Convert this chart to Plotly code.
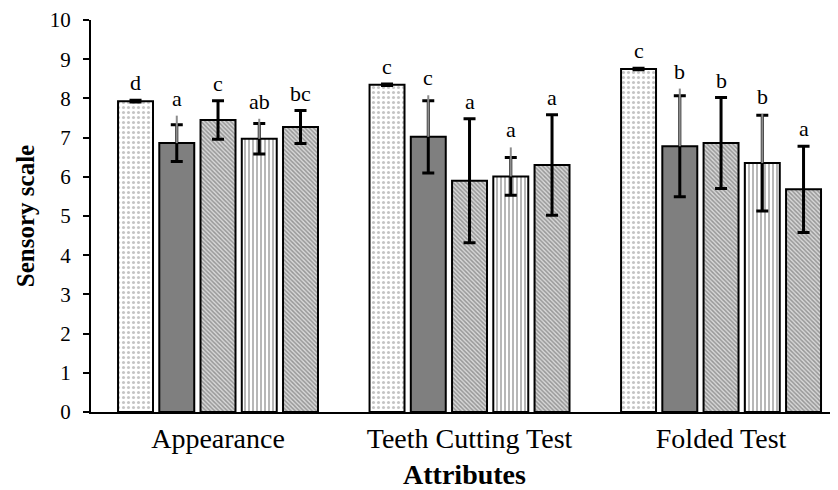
import plotly.graph_objects as go

categories = ["Appearance", "Teeth Cutting Test", "Folded Test"]

# five samples (series) per attribute
s1_vals = [7.93, 8.35, 8.75]
s2_vals = [6.86, 7.02, 6.78]
s3_vals = [7.45, 5.90, 6.86]
s4_vals = [6.97, 6.01, 6.35]
s5_vals = [7.27, 6.30, 5.68]

s1_err = [0.02, 0.02, 0.02]
s2_err = [0.47, 0.92, 1.29]
s3_err = [0.49, 1.58, 1.16]
s4_err = [0.39, 0.48, 1.22]
s5_err = [0.42, 1.28, 1.10]

# lighter upper whiskers seen on series 2 and 4
s2_grey_up = [0.70, 1.06, 1.47]
s4_grey_up = [0.51, 0.74, 1.25]

s1_letters = ["d", "c", "c"]
s2_letters = ["a", "c", "b"]
s3_letters = ["c", "a", "b"]
s4_letters = ["ab", "a", "b"]
s5_letters = ["bc", "a", "a"]

values = [s1_vals, s2_vals, s3_vals, s4_vals, s5_vals]
errors = [s1_err, s2_err, s3_err, s4_err, s5_err]
greys = [None, s2_grey_up, None, s4_grey_up, None]
letters = [s1_letters, s2_letters, s3_letters, s4_letters, s5_letters]

FONT = "Liberation Serif"

patterns = [
    dict(shape=".", fgcolor="#8a8a8a", bgcolor="white", size=5, solidity=0.3),
    None,
    dict(shape="\\", fgcolor="#555555", bgcolor="#d8d8d8", size=3, solidity=0.5),
    dict(shape="|", fgcolor="#707070", bgcolor="white", size=4, solidity=0.5),
    dict(shape="\\", fgcolor="#555555", bgcolor="#d8d8d8", size=3, solidity=0.5),
]
colors = ["white", "#7f7f7f", "white", "white", "white"]

x = list(range(len(categories)))
step = 0.164
width = 0.139

fig = go.Figure()
for i in range(5):
    center_off = (i - 2) * step
    marker = dict(color=colors[i], line=dict(color="black", width=2))
    if patterns[i] is not None:
        marker["pattern"] = patterns[i]
    fig.add_trace(go.Bar(
        x=x, y=values[i], width=width, offset=center_off - width / 2,
        marker=marker,
        error_y=dict(type="data", array=errors[i], color="black",
                     thickness=3, width=6),
        showlegend=False, hoverinfo="skip",
    ))
# grey upper whiskers overlaid
for i in range(5):
    if greys[i] is None:
        continue
    center_off = (i - 2) * step
    fig.add_trace(go.Bar(
        x=x, y=values[i], width=width, offset=center_off - width / 2,
        marker=dict(color="rgba(0,0,0,0)", line=dict(width=0)),
        error_y=dict(type="data", symmetric=False, array=greys[i],
                     arrayminus=[0] * len(x), color="#8c8c8c",
                     thickness=2, width=0),
        showlegend=False, hoverinfo="skip",
    ))

# significance letters
for i in range(5):
    center_off = (i - 2) * step
    for j in range(len(x)):
        top = values[i][j] + errors[i][j]
        if greys[i] is not None:
            top = max(top, values[i][j] + greys[i][j])
        fig.add_annotation(
            x=x[j] + center_off, y=top, text=letters[i][j],
            showarrow=False, yanchor="bottom", yshift=3,
            font=dict(family=FONT, size=22, color="black"),
        )

fig.update_layout(
    barmode="overlay",
    width=830, height=482,
    margin=dict(l=83, r=0, t=12, b=78),
    plot_bgcolor="white", paper_bgcolor="white",
    font=dict(family=FONT, color="black"),
)
fig.update_xaxes(
    range=[-0.505, 2.465], tickvals=x, ticktext=categories,
    showline=True, linecolor="black", linewidth=2, ticks="",
    showgrid=False, zeroline=False, automargin=False,
    ticklabelstandoff=0,
    tickfont=dict(family=FONT, size=28),
    title=dict(text="<b>Attributes</b>", font=dict(family=FONT, size=28),
               standoff=14),
)
fig.update_yaxes(
    range=[0, 10], dtick=1, showline=True, linecolor="black", linewidth=2,
    ticks="outside", ticklen=6, tickcolor="black", tickwidth=2,
    ticklabelstandoff=8, automargin=False,
    showgrid=False, zeroline=False,
    tickfont=dict(family=FONT, size=21),
    title=dict(text="<b>Sensory scale</b>", font=dict(family=FONT, size=25),
               standoff=8),
)

fig.write_html("out.html")
